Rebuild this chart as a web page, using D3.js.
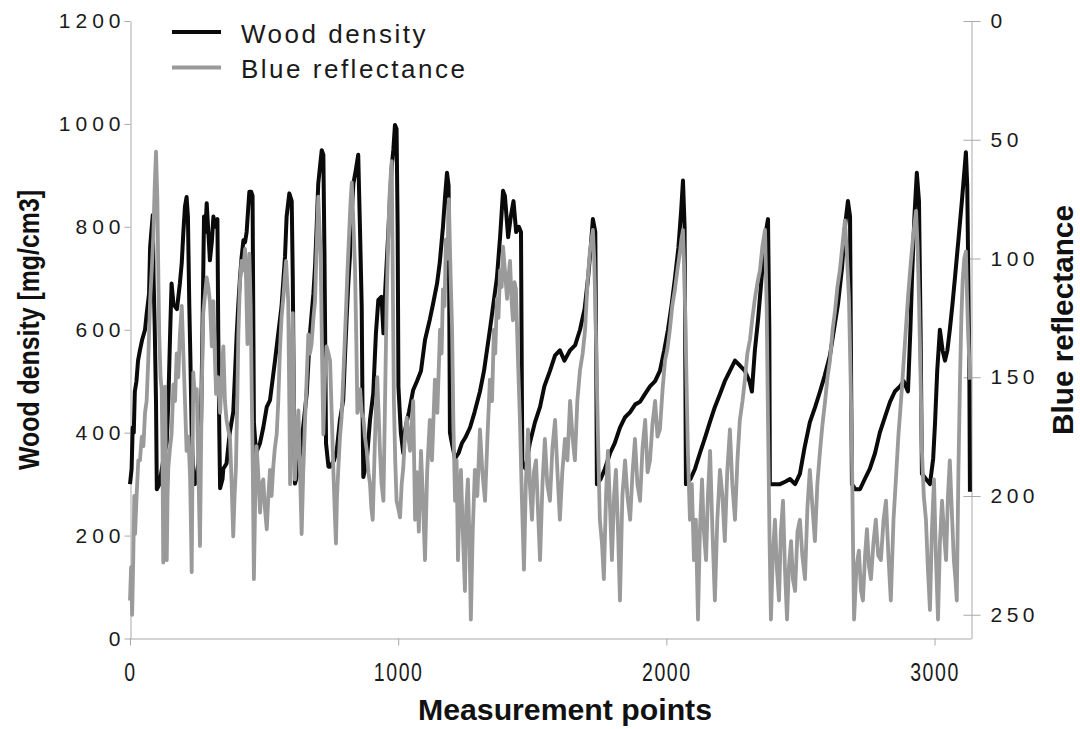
<!DOCTYPE html>
<html><head><meta charset="utf-8">
<script src="https://cdn.jsdelivr.net/npm/d3@7/dist/d3.min.js"></script>
<style>body{margin:0;background:#fff}</style>
</head><body><svg id="c" width="1080" height="729"></svg>
<script>
const xTicks = [0, 1000, 2000, 3000];
const leftTicks = [0, 200, 400, 600, 800, 1000, 1200];
const rightTicks = [0, 50, 100, 150, 200, 250];
const seriesNames = ["Wood density", "Blue reflectance"];

// [measurement point, wood density mg/cm3]
const density = [
[0,300],[6,330],[10,410],[14,400],[18,480],[24,500],[30,540],[37,560],[45,580],[56,600],[62,630],[71,670],[75,760],[78,780],[85,823],[88,700],[92,610],[97,460],[100,290],[110,300],[125,350],[137,380],[143,460],[150,600],[155,690],[162,650],[175,640],[186,690],[193,730],[199,790],[205,840],[211,858],[216,820],[221,650],[225,550],[230,400],[236,310],[242,300],[255,340],[265,420],[270,590],[276,820],[281,790],[286,846],[292,790],[298,735],[305,770],[311,820],[318,800],[326,815],[329,600],[333,400],[336,292],[345,310],[348,330],[360,340],[372,400],[385,440],[392,520],[398,593],[404,650],[410,700],[416,740],[423,774],[429,770],[435,790],[440,830],[445,868],[452,868],[457,860],[460,600],[462,420],[470,360],[485,380],[497,410],[510,450],
[522,463],[541,541],[553,593],[565,645],[578,742],[584,820],[594,865],[603,850],[607,700],[611,450],[615,301],[625,320],[646,412],[659,476],[671,593],[684,671],[690,723],[696,800],[702,884],[709,920],[715,949],[721,940],[725,755],[731,379],[740,334],[746,334],[760,345],[771,366],[783,425],[795,463],[801,540],[808,625],[814,690],[820,742],[826,820],[833,884],[842,910],[851,940],[858,787],[864,645],[867,450],[870,314],[882,340],[895,425],[907,476],[917,593],[926,658],[938,664],[945,593],[952,680],[963,787],[970,860],[976,917],[982,950],[988,998],[994,990],[998,800],[1001,489],[1010,400],[1019,360],[1025,404],[1040,440],[1056,483],
[1070,500],[1085,520],[1100,580],[1118,620],[1130,650],[1145,690],[1155,730],[1167,800],[1175,860],[1182,905],[1188,880],[1191,600],[1193,400],[1200,380],[1212,350],[1225,360],[1238,380],[1250,390],[1268,410],[1285,440],[1305,480],[1320,520],[1342,600],[1355,650],[1368,700],[1380,780],[1391,870],[1398,860],[1410,780],[1420,820],[1430,850],[1440,790],[1450,800],[1458,790],[1461,500],[1463,340],[1475,330],[1491,380],[1510,420],[1529,450],[1545,490],[1566,520],[1585,550],[1603,560],[1620,540],[1641,560],[1660,570],[1678,600],[1695,640],[1708,700],[1718,760],[1726,815],[1735,790],[1739,500],[1741,300],[1755,310],[1771,330],[1790,360],[1808,380],[1827,410],[1846,430],[1865,440],[1884,455],[1902,460],[1920,475],[1939,490],[1958,500],[1976,520],[1992,560],[2006,600],[2020,650],[2032,700],[2045,760],[2055,830],[2062,890],[2068,800],[2071,500],[2073,300],[2090,310],[2107,330],[2125,360],[2144,390],[2162,420],[2181,450],[2200,475],[2218,500],[2237,520],[2256,540],[2275,530],[2293,520],[2310,500],[2319,480],[2330,560],[2342,620],[2355,700],[2368,780],[2379,815],[2384,600],[2386,300],[2405,300],[2424,300],[2445,305],[2461,310],[2480,300],[2498,320],[2515,370],[2535,420],[2555,450],[2573,480],[2590,510],[2610,550],[2625,600],[2640,650],[2655,720],[2666,800],[2677,850],[2685,820],[2689,500],[2692,300],[2705,290],[2722,290],[2740,310],[2759,330],[2778,360],[2796,400],[2815,430],[2834,460],[2852,480],[2871,490],[2885,500],[2901,480],[2910,600],[2916,700],[2925,820],[2934,905],[2942,850],[2948,600],[2953,320],[2968,310],[2983,300],[2995,350],[3002,420],[3010,520],[3020,600],[3030,560],[3039,540],[3048,560],[3057,600],[3067,650],[3076,700],[3090,780],[3102,850],[3110,900],[3117,945],[3122,880],[3126,700],[3130,500],[3132,285]
];

// [measurement point, blue reflectance]
const blue = [
[0,244],[4,230],[8,250],[12,227],[16,200],[19,216],[25,199],[31,185],[37,185],[44,175],[50,179],[56,165],[62,160],[68,143],[75,118],[81,105],[87,90],[92,70],[97,55],[102,75],[106,110],[109,132],[114,150],[118,155],[121,180],[124,228],[127,200],[131,154],[134,190],[137,227],[140,200],[143,188],[149,180],[155,174],[162,153],[168,160],[174,140],[180,150],[186,132],[193,120],[199,140],[205,160],[211,181],[218,175],[224,192],[227,210],[230,232],[233,190],[236,148],[243,160],[249,155],[255,190],[261,221],[264,190],[267,160],[273,123],[280,115],[286,108],[292,112],[298,118],[305,137],[311,118],[316,140],[321,157],[328,150],[336,165],[342,150],[348,137],[354,160],[360,168],[366,172],[373,176],[379,195],[385,217],[390,200],[395,188],[400,160],[404,132],[410,110],[416,101],[422,105],[429,96],[433,110],[438,136],[442,110],[445,98],[450,120],[454,157],[458,190],[462,235],[467,200],[472,179],[478,190],[485,207],[491,195],[497,193],[503,205],[510,214],[516,200],[522,189],
[528,200],[534,188],[540,180],[547,174],[553,160],[559,139],[565,125],[572,116],[577,108],[582,101],[586,110],[590,118],[594,160],[597,195],[602,150],[607,123],[611,160],[615,193],[621,175],[628,164],[634,190],[640,216],[646,190],[653,167],[659,150],[665,132],[671,140],[677,136],[684,125],[690,118],[696,95],[702,74],[706,85],[711,99],[716,140],[721,174],[727,150],[733,137],[740,140],[746,143],[752,165],[758,188],[763,205],[768,220],[772,200],[777,188],[783,175],[789,167],[797,145],[805,123],[811,105],[818,87],[823,75],[827,68],[833,85],[839,104],[844,135],[848,165],[853,160],[858,155],[864,165],[870,167],[876,175],[883,181],[889,190],[895,195],[900,205],[905,210],[910,190],[914,174],[918,160],[922,150],[927,165],[932,181],[938,195],[945,202],[951,160],[957,118],[962,95],[967,75],[972,65],[976,59],[980,110],[984,160],[989,185],[994,202],[1000,205],[1007,209],[1013,195],[1019,188],[1025,175],[1032,167],[1038,175],[1044,181],[1050,170],[1056,160],
[1063,210],[1070,190],[1077,215],[1085,181],[1092,200],[1100,227],[1108,190],[1118,168],[1126,185],[1137,151],[1146,165],[1156,130],[1162,140],[1167,113],[1173,120],[1178,92],[1184,100],[1189,75],[1195,105],[1201,130],[1206,170],[1212,202],[1218,185],[1223,227],[1229,200],[1234,189],[1241,215],[1249,240],[1254,205],[1260,193],[1266,220],[1271,252],[1278,215],[1286,189],[1295,200],[1305,172],[1314,190],[1324,202],[1333,175],[1342,151],[1350,160],[1357,130],[1362,140],[1368,117],[1374,125],[1380,105],[1386,112],[1391,95],[1398,105],[1406,117],[1411,108],[1417,101],[1423,118],[1428,126],[1434,110],[1439,113],[1446,140],[1454,168],[1461,200],[1469,231],[1476,195],[1484,172],[1491,195],[1499,210],[1506,190],[1514,185],[1521,205],[1529,227],[1538,195],[1547,176],[1556,195],[1566,202],[1575,180],[1585,168],[1594,190],[1603,210],[1612,190],[1622,176],[1631,185],[1641,160],[1650,175],[1659,185],[1668,160],[1678,147],[1688,140],[1697,130],[1706,110],[1715,97],[1721,92],[1726,88],[1731,100],[1737,130],[1745,175],[1752,210],[1760,220],[1767,235],[1775,200],[1782,181],[1790,205],[1797,227],[1805,200],[1812,189],[1820,215],[1827,244],[1836,200],[1846,185],[1855,200],[1865,210],[1874,190],[1883,176],[1892,195],[1902,202],[1911,180],[1921,168],[1930,190],[1939,185],[1948,170],[1958,160],[1967,175],[1976,172],[1986,155],[1995,143],[2004,138],[2013,130],[2022,120],[2032,113],[2041,105],[2051,97],[2056,92],[2062,88],[2068,110],[2073,139],[2080,180],[2088,210],[2095,195],[2103,227],[2110,210],[2118,252],[2125,215],[2133,193],[2140,215],[2148,227],[2155,200],[2163,181],[2172,215],[2181,244],[2190,210],[2200,189],[2209,200],[2218,219],[2227,190],[2237,172],[2246,195],[2256,210],[2265,185],[2274,168],[2284,160],[2293,151],[2302,140],[2312,134],[2321,125],[2330,117],[2340,110],[2349,105],[2358,95],[2368,88],[2374,120],[2379,168],[2385,220],[2390,252],[2397,225],[2405,210],[2412,230],[2420,244],[2427,215],[2435,202],[2442,230],[2450,252],[2457,230],[2465,219],[2472,235],[2480,240],[2489,215],[2498,210],[2507,225],[2517,235],[2526,205],[2535,189],[2545,205],[2554,219],[2563,195],[2573,181],[2582,170],[2592,160],[2601,150],[2610,143],[2620,130],[2629,122],[2638,112],[2647,105],[2656,95],[2666,84],[2674,100],[2681,117],[2687,150],[2692,181],[2696,220],[2700,252],[2709,230],[2718,223],[2726,240],[2733,244],[2741,225],[2748,214],[2756,230],[2763,235],[2772,220],[2781,210],[2790,225],[2800,227],[2810,210],[2819,202],[2828,225],[2837,244],[2847,210],[2856,193],[2865,175],[2875,160],[2884,145],[2893,130],[2902,115],[2912,101],[2921,90],[2931,80],[2937,95],[2942,117],[2948,150],[2953,181],[2960,200],[2968,210],[2975,230],[2983,248],[2990,215],[2998,193],[3005,225],[3013,252],[3020,220],[3028,202],[3035,215],[3043,227],[3050,200],[3057,185],[3064,205],[3072,227],[3078,235],[3083,244],[3089,190],[3095,151],[3100,125],[3105,109],[3111,100],[3117,97],[3121,115],[3125,130],[3132,151]
];

const svg = d3.select("#c");
const x = d3.scaleLinear().domain([0, 3136]).range([130, 971]);
const yL = d3.scaleLinear().domain([0, 1200]).range([638.5, 21]);
const yR = d3.scaleLinear().domain([0, 260]).range([21, 638.5]);
const axisColor = "#a9a9a9";
const tickFont = "'Liberation Sans', Arial, sans-serif";

// x axis
const gx = svg.append("g").attr("transform", "translate(0,638.5)")
  .call(d3.axisBottom(x).tickValues(xTicks).tickSize(7).tickSizeOuter(0).tickFormat(d3.format("d")));
gx.select(".domain").attr("stroke", axisColor);
gx.selectAll(".tick line").attr("stroke", axisColor);
gx.selectAll(".tick text")
  .attr("y", 25).attr("dy", "0.71em")
  .attr("transform", "scale(0.78,1)")
  .style("font-family", tickFont)
  .style("font-size", "25px").style("letter-spacing", "2px").attr("fill", "#1a1a1a");

// left axis
const gl = svg.append("g").attr("transform", "translate(130.5,0)")
  .call(d3.axisLeft(yL).tickValues(leftTicks).tickSize(6).tickSizeOuter(0).tickFormat(d3.format("d")));
gl.select(".domain").attr("stroke", axisColor);
gl.selectAll(".tick line").attr("stroke", axisColor);
gl.selectAll(".tick text").attr("x", -5)
  .style("font-family", tickFont)
  .style("font-size", "21px").style("letter-spacing", "5px").attr("fill", "#1a1a1a");

// right axis
const gr = svg.append("g").attr("transform", "translate(971.5,0)")
  .call(d3.axisRight(yR).tickValues(rightTicks).tickSize(9).tickSizeOuter(0).tickFormat(d3.format("d")));
gr.select(".domain").attr("stroke", axisColor);
gr.selectAll(".tick line").attr("stroke", axisColor).attr("x1", -8);
gr.selectAll(".tick text").attr("x", 19)
  .style("font-family", tickFont)
  .style("font-size", "21px").style("letter-spacing", "4.5px").attr("fill", "#1a1a1a");

// lines
const lineD = d3.line().x(d => x(d[0])).y(d => yL(d[1]));
const lineB = d3.line().x(d => x(d[0])).y(d => yR(d[1]));
svg.append("path").datum(density).attr("d", lineD)
  .attr("fill", "none").attr("stroke", "#0a0a0a").attr("stroke-width", 4).attr("stroke-linejoin", "round");
svg.append("path").datum(blue).attr("d", lineB)
  .attr("fill", "none").attr("stroke", "#9a9a9a").attr("stroke-width", 3.8).attr("stroke-linejoin", "round");

// legend
const legColors = ["#0a0a0a", "#9a9a9a"];
const leg = svg.append("g");
seriesNames.forEach((n, i) => {
  const yy = 32 + i * 35.5;
  leg.append("line").attr("x1", 172).attr("x2", 221).attr("y1", yy).attr("y2", yy)
    .attr("stroke", legColors[i]).attr("stroke-width", 4);
  leg.append("text").attr("x", 241).attr("y", yy + 10.5).text(n)
    .style("font-family", tickFont)
    .style("font-size", "26px").style("letter-spacing", "2.5px").attr("fill", "#1a1a1a");
});

// titles
svg.append("text").attr("transform", "translate(39,330) rotate(-90)")
  .attr("text-anchor", "middle").attr("textLength", 280).attr("lengthAdjust", "spacingAndGlyphs")
  .style("font-family", tickFont).style("font-weight", "bold").style("font-size", "29px")
  .attr("fill", "#111").text("Wood density [mg/cm3]");
svg.append("text").attr("transform", "translate(1073,320) rotate(-90)")
  .attr("text-anchor", "middle").attr("textLength", 230).attr("lengthAdjust", "spacingAndGlyphs")
  .style("font-family", tickFont).style("font-weight", "bold").style("font-size", "30px")
  .attr("fill", "#111").text("Blue reflectance");
svg.append("text").attr("x", 565).attr("y", 720)
  .attr("text-anchor", "middle").attr("textLength", 294).attr("lengthAdjust", "spacingAndGlyphs")
  .style("font-family", tickFont).style("font-weight", "bold").style("font-size", "30px")
  .attr("fill", "#111").text("Measurement points");
</script></body></html>
